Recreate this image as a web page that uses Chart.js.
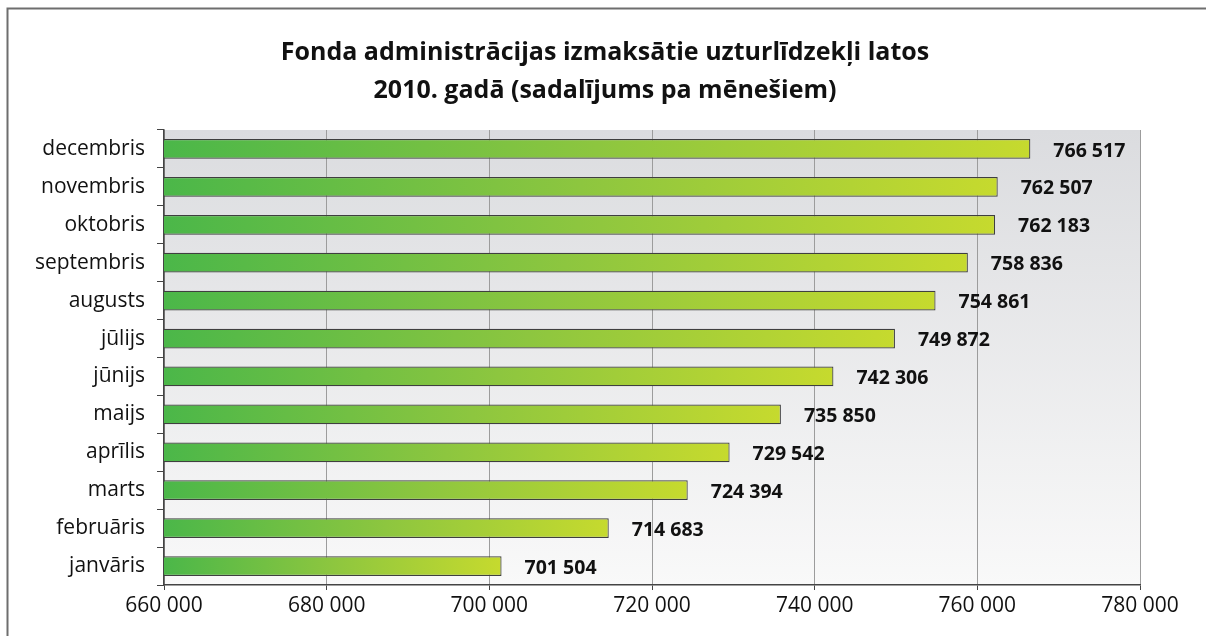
<!DOCTYPE html>
<html>
<head>
<meta charset="utf-8">
<script src="https://cdn.jsdelivr.net/npm/chart.js@4.4.1/dist/chart.umd.min.js"></script>
<style>
html,body{margin:0;padding:0;background:#fff;}
#wrap{width:1206px;height:636px;position:relative;}
</style>
</head>
<body>
<div id="wrap"><canvas id="c" width="1206" height="636"></canvas></div>
<script>
const months = ["janvāris","februāris","marts","aprīlis","maijs","jūnijs","jūlijs","augusts","septembris","oktobris","novembris","decembris"];
const amounts = [701504,714683,724394,729542,735850,742306,749872,754861,758836,762183,762507,766517];
const titleLines = ["Fonda administrācijas izmaksātie uzturlīdzekļi latos","2010. gadā (sadalījums pa mēnešiem)"];
const xMin = 660000, xMax = 780000, xStep = 20000;

const FONT = "'Open Sans', 'Noto Sans', sans-serif";
function fmt(v){ return String(Math.round(v)).replace(/\B(?=(\d{3})+(?!\d))/g, " "); }

const framePlugin = {
  id: 'frame',
  beforeDraw(chart){
    const ctx = chart.ctx, a = chart.chartArea;
    ctx.save();
    const g = ctx.createLinearGradient(0, a.top, 0, a.bottom);
    g.addColorStop(0, '#dbdcdf');
    g.addColorStop(1, '#f9f9f9');
    ctx.fillStyle = g;
    ctx.fillRect(a.left, a.top, a.right - a.left, a.bottom - a.top);
    ctx.strokeStyle = '#6e6e6e';
    ctx.lineWidth = 2;
    ctx.beginPath();
    ctx.moveTo(7.5, chart.height);
    ctx.lineTo(7.5, 8.5);
    ctx.lineTo(chart.width, 8.5);
    ctx.stroke();
    ctx.fillStyle = '#111';
    ctx.font = "bold 25px " + FONT;
    ctx.textAlign = 'center';
    ctx.textBaseline = 'middle';
    ctx.fillText(titleLines[0], chart.width / 2 + 2, 53);
    ctx.fillText(titleLines[1], chart.width / 2 + 2, 91);
    ctx.restore();
  }
};

const valueLabels = {
  id: 'valueLabels',
  afterDatasetsDraw(chart){
    const ctx = chart.ctx;
    const meta = chart.getDatasetMeta(0);
    ctx.save();
    ctx.font = "bold 19.5px " + FONT;
    ctx.fillStyle = '#111';
    ctx.textAlign = 'left';
    ctx.textBaseline = 'middle';
    meta.data.forEach((bar, i) => {
      ctx.fillText(fmt(amounts[i]), bar.x + 23, bar.y + 2);
    });
    ctx.restore();
  }
};

new Chart(document.getElementById('c'), {
  type: 'bar',
  data: {
    labels: months,
    datasets: [{
      data: amounts,
      backgroundColor(context){
        const chart = context.chart;
        const a = chart.chartArea;
        if (!a || context.dataIndex === undefined) return '#7cc242';
        const xs = chart.scales.x;
        const x1 = xs.getPixelForValue(amounts[context.dataIndex]);
        const g = chart.ctx.createLinearGradient(a.left, 0, x1, 0);
        g.addColorStop(0, '#4bb749');
        g.addColorStop(0.5, '#8dc63f');
        g.addColorStop(1, '#c6da2e');
        return g;
      },
      borderColor: '#3f3f3f',
      borderWidth: 1.2,
      borderSkipped: false,
      barPercentage: 0.52,
      categoryPercentage: 1.0
    }]
  },
  options: {
    indexAxis: 'y',
    responsive: false,
    animation: false,
    devicePixelRatio: 1,
    layout: { padding: { left: 0, right: 66, top: 130, bottom: 0 } },
    plugins: {
      legend: { display: false },
      tooltip: { enabled: false },
      title: { display: false }
    },
    scales: {
      x: {
        type: 'linear',
        min: xMin, max: xMax,
        ticks: {
          stepSize: xStep,
          color: '#111',
          font: { family: FONT, size: 21 },
          padding: 3,
          callback: v => fmt(v)
        },
        grid: {
          color: '#9c9c9c',
          lineWidth: 1,
          tickColor: '#444',
          tickLength: 5,
          drawTicks: true
        },
        border: { display: true, color: '#444', width: 1.5 },
        afterFit(scale){ scale.height = 51; }
      },
      y: {
        reverse: true,
        offset: true,
        ticks: {
          color: '#111',
          font: { family: FONT, size: 21 },
          padding: 12
        },
        grid: {
          offset: true,
          drawOnChartArea: false,
          drawTicks: true,
          tickLength: 7,
          tickColor: '#444'
        },
        border: { display: true, color: '#444', width: 1.5 },
        afterFit(scale){ scale.width = 164; }
      }
    }
  },
  plugins: [framePlugin, valueLabels]
});
</script>
</body>
</html>
